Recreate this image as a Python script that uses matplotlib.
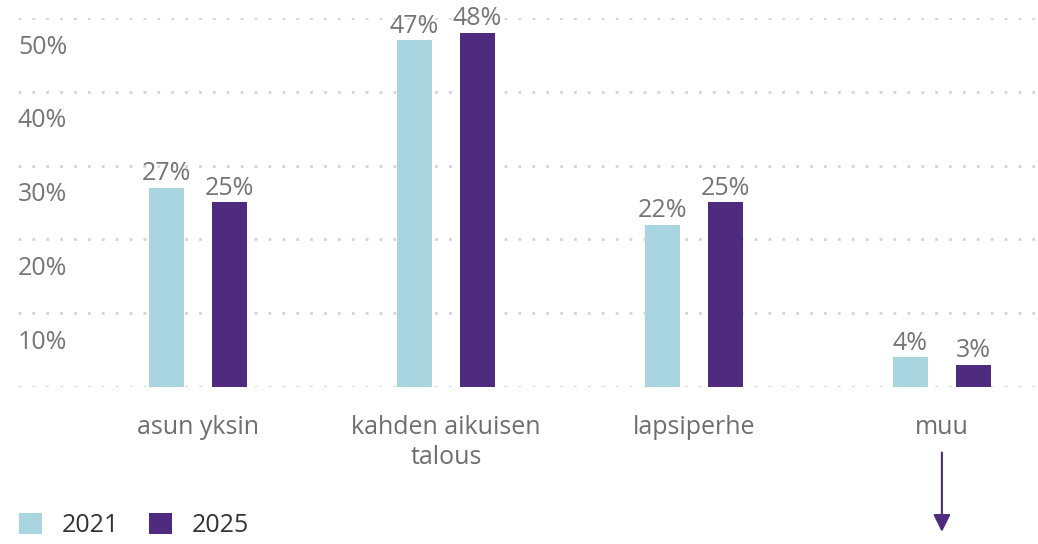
import numpy as np
import matplotlib
matplotlib.use('Agg')
import matplotlib.pyplot as plt
from matplotlib.patches import Patch

plt.rcParams['font.family'] = ['Open Sans', 'DejaVu Sans']

# ── Data ─────────────────────────────────────────────────────────────────────
categories = ['asun yksin', 'kahden aikuisen\ntalous', 'lapsiperhe', 'muu']
years = ['2021', '2025']
values_2021 = [27, 47, 22, 4]
values_2025 = [25, 48, 25, 3]
yticks = [10, 20, 30, 40, 50]

C_2021 = '#a9d5e1'
C_2025 = '#4f2b7f'
GRID = '#d4d4d4'
TXT = '#757575'

fig = plt.figure(figsize=(10.38, 5.44), dpi=100)
ax = fig.add_axes([0.0173, 0.2886, 0.9797, 0.6784])

x = np.arange(len(categories))
w = 0.141
off = 0.127

for v in [0] + yticks:
    ax.axhline(v, color=GRID, lw=2, ls=(0, (1, 4)), zorder=1)

b1 = ax.bar(x - off, values_2021, w, color=C_2021, zorder=2)
b2 = ax.bar(x + off, values_2025, w, color=C_2025, zorder=2)

for bars, vals in [(b1, values_2021), (b2, values_2025)]:
    for rect, v in zip(bars, vals):
        ax.annotate(f'{v}%', (rect.get_x() + rect.get_width() / 2, v),
                    xytext=(0, 1), textcoords='offset points',
                    ha='center', va='bottom', fontsize=18, color=TXT)

# y labels sit below their gridline
for v in yticks:
    ax.annotate(f'{v}%', (0, v), xycoords=('axes fraction', 'data'),
                xytext=(0, -21), textcoords='offset points',
                ha='left', va='center', fontsize=18, color=TXT)

for xi, cat in zip(x, categories):
    ax.annotate(cat, (xi, 0), xycoords=('data', 'data'),
                xytext=(0, -20), textcoords='offset points',
                ha='center', va='top', fontsize=18, color='#6e6e6e',
                linespacing=1.25, annotation_clip=False)

ax.annotate('', xy=(3, -0.40), xytext=(3, -0.17),
            xycoords=ax.get_xaxis_transform(),
            arrowprops=dict(arrowstyle='-|>', color=C_2025, lw=1.5,
                            mutation_scale=26),
            annotation_clip=False)

ax.set_xlim(-0.726, 3.375)
ax.set_ylim(0, 50)
ax.axis('off')

handles = [Patch(facecolor=C_2021, edgecolor='none'),
           Patch(facecolor=C_2025, edgecolor='none')]
fig.legend(handles, years, loc='lower left', bbox_to_anchor=(-0.003, -0.03),
           ncol=2, frameon=False, fontsize=18, handlelength=0.9,
           handleheight=0.9, handletextpad=0.8, columnspacing=1.2,
           labelcolor='#333333')

fig.savefig('out.png', dpi=100)
